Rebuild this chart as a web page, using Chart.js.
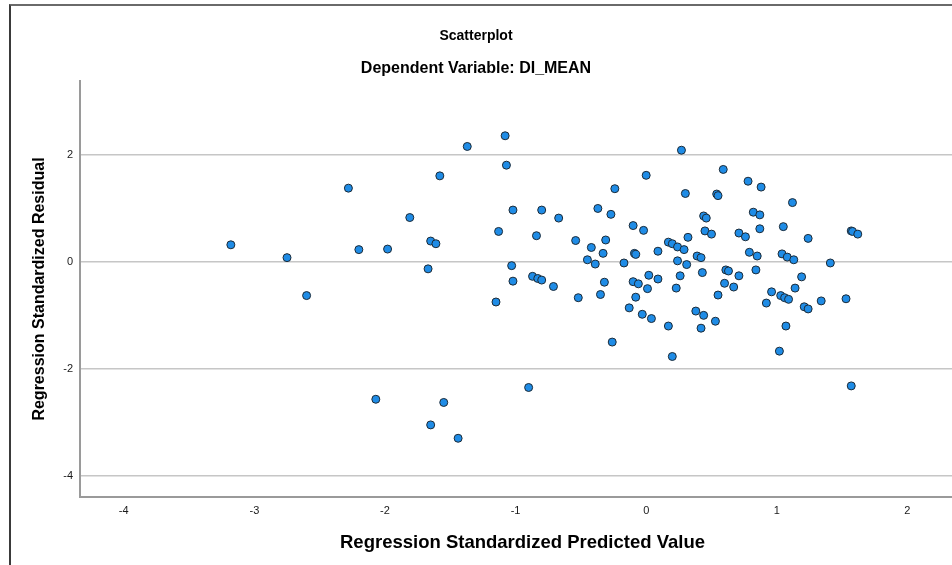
<!DOCTYPE html>
<html>
<head>
<meta charset="utf-8">
<title>Scatterplot</title>
<script src="https://cdn.jsdelivr.net/npm/chart.js@4.4.1/dist/chart.umd.min.js"></script>
<style>
    html, body { margin: 0; padding: 0; background: #fff; overflow: hidden; }
    #wrap { position: relative; width: 952px; height: 565px; overflow: hidden; }
    #frame {
        position: absolute; left: 9px; top: 4px; width: 1000px; height: 600px;
        border-left: 2px solid #3a3a3a; border-top: 2px solid #6a6a6a;
        pointer-events: none;
    }
    #chart { position: absolute; left: 0; top: 0; }
</style>
</head>
<body>
<div id="wrap">
    <canvas id="chart" width="970" height="565"></canvas>
    <div id="frame"></div>
</div>
<script>
// Values
const predicted = [
    -3.18, -2.75, -2.60, -2.28, -2.20, -1.98, -2.07, -1.81, -1.58, -1.65,
    -1.61, -1.67, -1.65, -1.55, -1.44, -1.37, -1.08, -1.07, -1.13, -1.15,
    -1.02, -1.03, -1.02, -0.80, -0.84, -0.67, -0.87, -0.83, -0.80, -0.71,
    -0.90, -0.54, -0.52, -0.37, -0.27, -0.24, -0.42, -0.31, -0.33, -0.45,
    -0.39, -0.17, -0.32, -0.35, -0.26, 0.00, -0.10, -0.02, -0.09, -0.08,
    -0.10, -0.06, 0.01, 0.02, 0.09, -0.08, -0.13, -0.03, 0.04, 0.17,
    0.20, 0.09, 0.17, 0.20, 0.24, 0.29, 0.32, 0.24, 0.31, 0.26,
    0.23, 0.27, 0.30, 0.39, 0.42, 0.44, 0.46, 0.45, 0.50, 0.43,
    0.38, 0.44, 0.42, 0.53, 0.55, 0.59, 0.54, 0.55, 0.78, 0.88,
    1.12, 0.82, 0.87, 0.71, 0.76, 0.87, 1.05, 1.24, 1.57, 1.58,
    1.62, 0.79, 0.85, 1.04, 1.08, 1.13, 1.41, 0.61, 0.63, 0.84,
    0.71, 0.60, 0.67, 1.19, 1.14, 0.96, 1.03, 1.06, 1.09, 0.92,
    1.21, 1.24, 1.34, 1.53, 1.07, 1.02, 1.57
];
const residual = [
    0.32, 0.08, -0.63, 1.38, 0.23, 0.24, -2.57, 0.83, 1.61, 0.39,
    0.34, -0.13, -3.05, -2.63, -3.30, 2.16, 2.36, 1.81, 0.57, -0.75,
    0.97, -0.07, -0.36, 0.97, 0.49, 0.82, -0.27, -0.31, -0.34, -0.46,
    -2.35, 0.40, -0.67, 1.00, 0.89, 1.37, 0.27, 0.41, 0.16, 0.04,
    -0.04, -0.02, -0.38, -0.61, -1.50, 1.62, 0.68, 0.59, 0.16, 0.14,
    -0.37, -0.41, -0.50, -0.25, -0.32, -0.66, -0.86, -0.98, -1.06, -1.20,
    -1.77, 0.20, 0.37, 0.34, 0.28, 0.23, 0.46, 0.02, -0.05, -0.26,
    -0.49, 2.09, 1.28, 0.11, 0.08, 0.86, 0.82, 0.58, 0.52, -0.20,
    -0.92, -1.00, -1.24, -1.11, -0.62, 1.73, 1.27, 1.24, 1.51, 1.40,
    1.11, 0.93, 0.88, 0.54, 0.47, 0.62, 0.66, 0.44, 0.58, 0.57,
    0.52, 0.18, 0.11, 0.15, 0.09, 0.04, -0.02, -0.15, -0.17, -0.15,
    -0.26, -0.40, -0.47, -0.28, -0.49, -0.56, -0.63, -0.67, -0.70, -0.77,
    -0.84, -0.88, -0.73, -0.69, -1.20, -1.67, -2.32
];
const xTickValues = [-4, -3, -2, -1, 0, 1, 2];
const yTickValues = [-4, -2, 0, 2];

const points = predicted.map((x, i) => ({ x, y: residual[i] }));

// The canvas is a bit wider than the window (plot runs off the right edge),
// so keep the title blocks centred on the visible part only.
const centerTitles = {
    id: "centerTitles",
    afterLayout(chart) {
        chart.boxes.forEach(box => {
            if (box.position === "top") {
                box.right = 952;
                box.width = box.right - box.left;
            }
        });
    }
};

Chart.defaults.font.family = "'Liberation Sans', Arial, sans-serif";
Chart.defaults.color = "#1a1a1a";

new Chart(document.getElementById("chart"), {
    type: "scatter",
    data: {
        datasets: [{
            data: points,
            backgroundColor: "#1f8ce6",
            borderColor: "#1c2a36",
            borderWidth: 1,
            pointRadius: 4,
            pointHoverRadius: 4
        }]
    },
    options: {
        responsive: false,
        animation: false,
        devicePixelRatio: 1,
        layout: { padding: { left: 0, right: 4, top: 0, bottom: 0 } },
        plugins: {
            legend: { display: false },
            tooltip: { enabled: false },
            title: {
                display: true,
                text: "Scatterplot",
                color: "#000",
                font: { size: 14, weight: "bold" },
                padding: { top: 28, bottom: 6 }
            },
            subtitle: {
                display: true,
                text: "Dependent Variable: DI_MEAN",
                color: "#000",
                font: { size: 16, weight: "bold" },
                padding: { top: 8, bottom: 3 }
            }
        },
        scales: {
            x: {
                type: "linear",
                min: -4.335,
                max: 2.441,
                afterBuildTicks: (s) => { s.ticks = xTickValues.map(v => ({ value: v })); },
                afterFit: (s) => { s.height = 68; },
                grid: { display: false, drawTicks: false },
                border: { display: true, color: "#9a9a9a", width: 2 },
                ticks: { padding: 7, font: { size: 11 }, color: "#1a1a1a" },
                title: {
                    display: true,
                    text: "Regression Standardized Predicted Value",
                    color: "#000",
                    font: { size: 18.5, weight: "bold" },
                    padding: { top: 0, bottom: 11 }
                }
            },
            y: {
                type: "linear",
                min: -4.399,
                max: 3.385,
                afterBuildTicks: (s) => { s.ticks = yTickValues.map(v => ({ value: v })); },
                afterFit: (s) => { s.width = 80; },
                grid: { display: true, drawTicks: false, color: "#c6c6c6", lineWidth: 1.5 },
                border: { display: true, color: "#9a9a9a", width: 2 },
                ticks: { padding: 7, font: { size: 11 }, color: "#1a1a1a" },
                title: {
                    display: true,
                    text: "Regression Standardized Residual",
                    color: "#000",
                    font: { size: 16, weight: "bold" },
                    padding: { top: 30, bottom: 0 }
                }
            }
        }
    },
    plugins: [centerTitles]
});
</script>
</body>
</html>
